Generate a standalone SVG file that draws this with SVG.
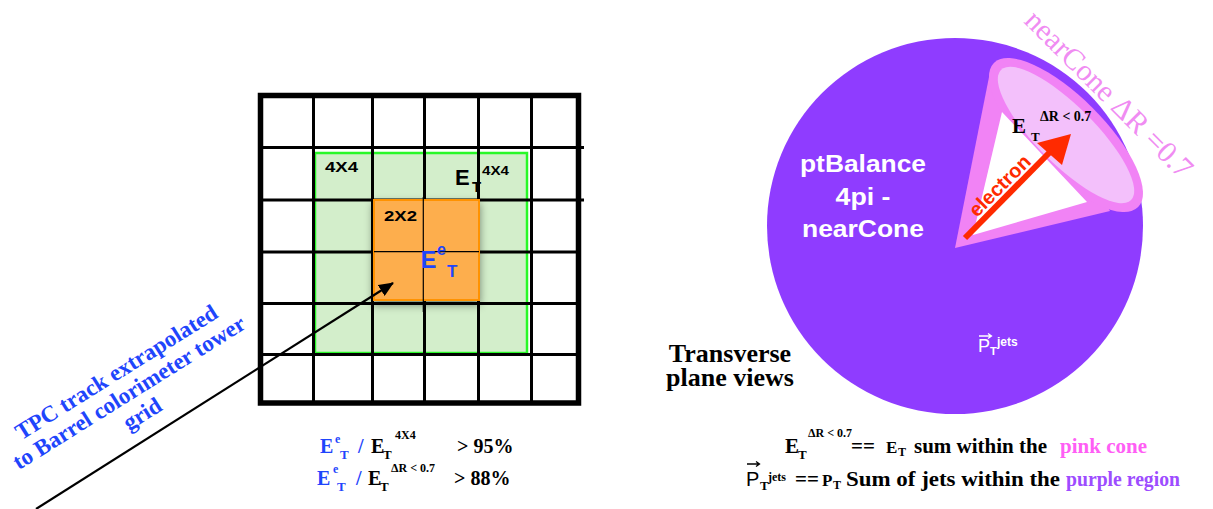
<svg xmlns="http://www.w3.org/2000/svg" width="1213" height="509" viewBox="0 0 1213 509">
<defs>
<style>
.serif{font-family:"Liberation Serif","Times New Roman",serif;font-weight:bold}
.serifr{font-family:"Liberation Serif","Times New Roman",serif}
.sans{font-family:"Liberation Sans",Arial,sans-serif;font-weight:bold}
.sansr{font-family:"Liberation Sans",Arial,sans-serif}
.blue{fill:#1f45fc}
.gl{stroke:#000;stroke-width:3;fill:none}
.vec{stroke-width:1.3;fill:none}
</style>
<filter id="sh" x="-20%" y="-20%" width="140%" height="150%"><feDropShadow dx="0" dy="4" stdDeviation="4" flood-color="#000" flood-opacity="0.45"/></filter>
<marker id="ah" markerWidth="15" markerHeight="13" refX="14" refY="6.5" orient="auto" markerUnits="userSpaceOnUse"><path d="M0,0 L15,6.5 L0,13 z" fill="#000"/></marker>
</defs>
<rect width="1213" height="509" fill="#fff"/>

<g id="tower-grid">
<rect x="315" y="153" width="212" height="200" fill="#d3eecb" stroke="#28f828" stroke-width="2.5"/>
<path class="gl" d="M313.5,95V403 M372.5,95V403 M424.5,95V403 M478.5,95V403 M531.5,95V403 M260,147.5H584 M260,200H584 M260,252H578 M260,303.5H578 M260,354.5H578"/>
<rect x="260.5" y="95.5" width="318" height="307.5" fill="none" stroke="#000" stroke-width="5.5"/>
<text class="sans" x="325" y="172" font-size="15" textLength="33" lengthAdjust="spacingAndGlyphs">4X4</text>
<text class="sans" x="455" y="185" font-size="22">E</text>
<text class="sans" x="472" y="192" font-size="15">T</text>
<text class="sans" x="482" y="175" font-size="13" textLength="27" lengthAdjust="spacingAndGlyphs">4X4</text>
</g>

<g id="cluster-2x2">
<rect x="374" y="200" width="105" height="100" fill="#fdae4e" stroke="#ff9200" stroke-width="2" filter="url(#sh)"/>
<path d="M423.3,197V312 M374,251.7H479" stroke="#000" stroke-width="1.2"/>
<text class="sans" x="384" y="221" font-size="15" textLength="33" lengthAdjust="spacingAndGlyphs">2X2</text>
<text class="sans blue" x="421" y="268" font-size="23">E</text>
<text class="sans blue" x="437" y="255" font-size="16">e</text>
<text class="sans blue" x="447" y="277" font-size="17">T</text>
</g>

<g id="track-label" transform="translate(133,399) rotate(-32)">
<text class="serif blue" font-size="23" text-anchor="middle"><tspan x="0" y="-24">TPC track extrapolated</tspan><tspan x="0" y="0">to Barrel colorimeter tower</tspan><tspan x="0" y="25">grid</tspan></text>
</g>

<g id="ratios" class="serif" font-size="20">
<text class="blue" x="320" y="453">E</text>
<text class="blue" x="335" y="443" font-size="12">e</text>
<text class="blue" x="340" y="459" font-size="13">T</text>
<text class="blue" x="358" y="453">/</text>
<text x="371" y="453">E</text>
<text x="383" y="459" font-size="13">T</text>
<text x="395" y="439" font-size="12">4X4</text>
<text x="457" y="453">&gt; 95%</text>
<text class="blue" x="317" y="485">E</text>
<text class="blue" x="333" y="473" font-size="12">e</text>
<text class="blue" x="337" y="491" font-size="13">T</text>
<text class="blue" x="356" y="485">/</text>
<text x="368" y="485">E</text>
<text x="380" y="491" font-size="13">T</text>
<text x="391" y="472" font-size="12">ΔR &lt; 0.7</text>
<text x="454" y="485">&gt; 88%</text>
</g>

<g id="ptbalance-region">
<circle cx="955" cy="226" r="188" fill="#8f3cff"/>
<text class="sans" fill="#fff" font-size="23" text-anchor="middle"><tspan x="863" y="172" textLength="126" lengthAdjust="spacingAndGlyphs">ptBalance</tspan><tspan x="863" y="205" textLength="55" lengthAdjust="spacingAndGlyphs">4pi -</tspan><tspan x="863" y="237" textLength="122" lengthAdjust="spacingAndGlyphs">nearCone</tspan></text>
<text class="sansr" fill="#fff" x="978" y="352" font-size="18">P</text>
<path class="vec" stroke="#fff" d="M979,336H991 M988,333.5L991.5,336L988,338.5"/>
<text class="sans" fill="#fff" x="990" y="355" font-size="11">T</text>
<text class="sans" fill="#fff" x="997" y="346" font-size="12">jets</text>
</g>

<g id="near-cone">
<path d="M955,248 L990,72 L1066,135 L1110,211 Z" fill="#f183f5"/>
<ellipse cx="1066" cy="135" rx="102" ry="38" transform="rotate(45 1066 135)" fill="#f183f5"/>
<path d="M973,235 L1002,112 L1087,202 Z" fill="#fff"/>
<ellipse cx="1066" cy="135" rx="92" ry="29" transform="rotate(45 1066 135)" fill="#f3c0fb"/>
<text class="serif" x="1012" y="133" font-size="21">E</text>
<text class="serif" x="1031" y="141" font-size="13">T</text>
<text class="serif" x="1040" y="121" font-size="14">ΔR &lt; 0.7</text>
<text class="serifr" fill="#f08cf2" font-size="30" transform="translate(1023,22) rotate(45)">nearCone ΔR =0.7</text>
</g>

<g id="electron">
<path d="M965,238 L1050,152" stroke="#ff2a00" stroke-width="6"/>
<path d="M1071,134 L1037,143 L1062,165 Z" fill="#ff2a00"/>
<text class="sans" fill="#ff2a00" font-size="20" transform="translate(977,218) rotate(-45)">electron</text>
</g>

<g id="view-label">
<text class="serif" font-size="26" text-anchor="middle"><tspan x="730" y="362">Transverse</tspan><tspan x="730" y="386">plane views</tspan></text>
</g>

<g id="definitions" class="serif" font-size="21">
<text x="785" y="453">E</text>
<text x="798" y="459" font-size="13">T</text>
<text x="808" y="437" font-size="12">ΔR &lt; 0.7</text>
<text x="851" y="453">==</text>
<text x="886" y="453" font-size="17">E</text>
<text x="898" y="456" font-size="12">T</text>
<text x="914" y="453">sum within the</text>
<text x="1060" y="453" fill="#ff5ef5" textLength="87" lengthAdjust="spacingAndGlyphs">pink cone</text>
<text class="sansr" font-size="20" x="746" y="486" font-weight="normal">P</text>
<path class="vec" stroke="#000" d="M747,464H759 M756,461.5L759.5,464L756,466.5"/>
<text x="760" y="490" font-size="13">T</text>
<text x="768" y="481" font-size="12">jets</text>
<text x="795" y="486">==</text>
<text x="822" y="486" font-size="17">P</text>
<text x="833" y="489" font-size="12">T</text>
<text x="846" y="486" font-size="22" textLength="214" lengthAdjust="spacingAndGlyphs">Sum of jets within the</text>
<text x="1066" y="486" fill="#9d4cff" textLength="114" lengthAdjust="spacingAndGlyphs">purple region</text>
</g>

<g id="connectors">
<path d="M36,509 L393,283" stroke="#000" stroke-width="2.2" fill="none" marker-end="url(#ah)"/>
</g>
</svg>
